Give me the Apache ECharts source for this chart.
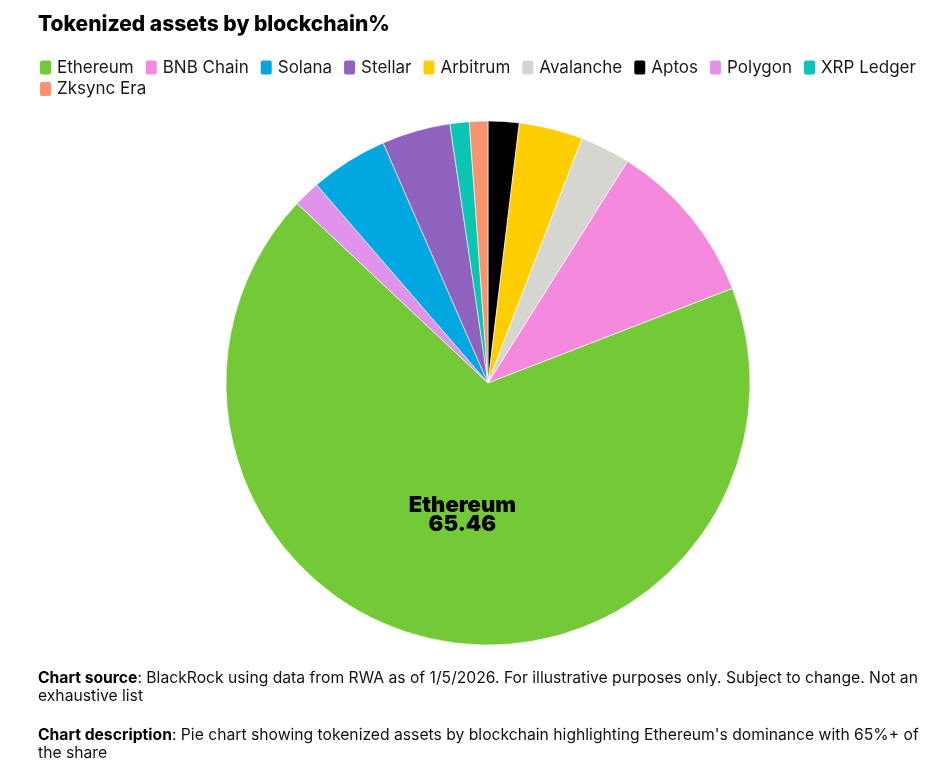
<!DOCTYPE html>
<html>
<head>
<meta charset="utf-8">
<script src="https://cdn.jsdelivr.net/npm/echarts@6/dist/echarts.min.js"></script>
<style>
html,body{margin:0;padding:0;background:#fff;}
#chart{width:949px;height:775px;}
</style>
</head>
<body>
<div id="chart"></div>
<script>
// Pie order (alphabetical, clockwise from 12 o'clock)
var categories = ['Aptos','Arbitrum','Avalanche','BNB Chain','Ethereum','Polygon','Solana','Stellar','XRP Ledger','Zksync Era'];
var values = [1.84, 3.80, 2.99, 9.81, 65.46, 1.59, 4.62, 4.08, 1.14, 1.10];
var colors = ['#000000','#FFCE00','#D6D6D1','#F589DD','#74CA36','#E192EA','#00A7E1','#8F62BF','#0BC4B1','#F7946F'];
// Legend order (descending by value), split across two rows
var legendRow1 = ['Ethereum','BNB Chain','Solana','Stellar','Arbitrum','Avalanche','Aptos','Polygon','XRP Ledger'];
var legendRow2 = ['Zksync Era'];
var labelShown = ['Ethereum'];

var FONT = 'Inter';
var data = categories.map(function(c,i){
  return {
    name: c, value: values[i],
    itemStyle: {color: colors[i]},
    label: {show: labelShown.indexOf(c) >= 0}
  };
});

function legendCfg(items, top){
  return {
    data: items,
    left: 38, top: top,
    icon: 'path://M3,0 H10 Q13,0 13,3 V13 Q13,16 10,16 H3 Q0,16 0,13 V3 Q0,0 3,0 Z',
    itemWidth: 13, itemHeight: 16, itemGap: 10,
    padding: 0,
    textStyle: {fontFamily: FONT, fontSize: 17, color: '#1a1a1a'},
    selectedMode: false
  };
}
var footRich = {b: {fontFamily: FONT, fontSize: 15.7, fontWeight: 700, color: '#000', lineHeight: 18}};

var chart = echarts.init(document.getElementById('chart'));
chart.setOption({
  animation: false,
  textStyle: {fontFamily: FONT},
  title: [{
    text: 'Tokenized assets by blockchain%',
    left: 38, top: 14, padding: 0,
    textStyle: {fontFamily: FONT, fontSize: 21, fontWeight: 800, color: '#000'}
  }, {
    text: '{b|Chart source}: BlackRock using data from RWA as of 1/5/2026. For illustrative purposes only. Subject to change. Not an\nexhaustive list',
    left: 38, top: 669, padding: 0,
    textStyle: {fontFamily: FONT, fontSize: 15.7, fontWeight: 400, color: '#111', lineHeight: 18, rich: footRich}
  }, {
    text: '{b|Chart description}: Pie chart showing tokenized assets by blockchain highlighting Ethereum\'s dominance with 65%+ of\nthe share',
    left: 38, top: 726, padding: 0,
    textStyle: {fontFamily: FONT, fontSize: 15.7, fontWeight: 400, color: '#111', lineHeight: 18, rich: footRich}
  }],
  legend: [legendCfg(legendRow1, 58.5), legendCfg(legendRow2, 80)],
  series: [{
    type: 'pie',
    center: [488, 383],
    radius: [0, 262],
    startAngle: 90,
    clockwise: true,
    avoidLabelOverlap: false,
    itemStyle: {borderColor: '#ffffff', borderWidth: 0.6},
    label: {
      position: 'inside',
      formatter: '{b}\n{c}',
      fontFamily: FONT, fontSize: 22, fontWeight: 900, color: '#000', lineHeight: 19
    },
    labelLine: {show: false},
    emphasis: {disabled: true},
    data: data
  }]
});
</script>
</body>
</html>
